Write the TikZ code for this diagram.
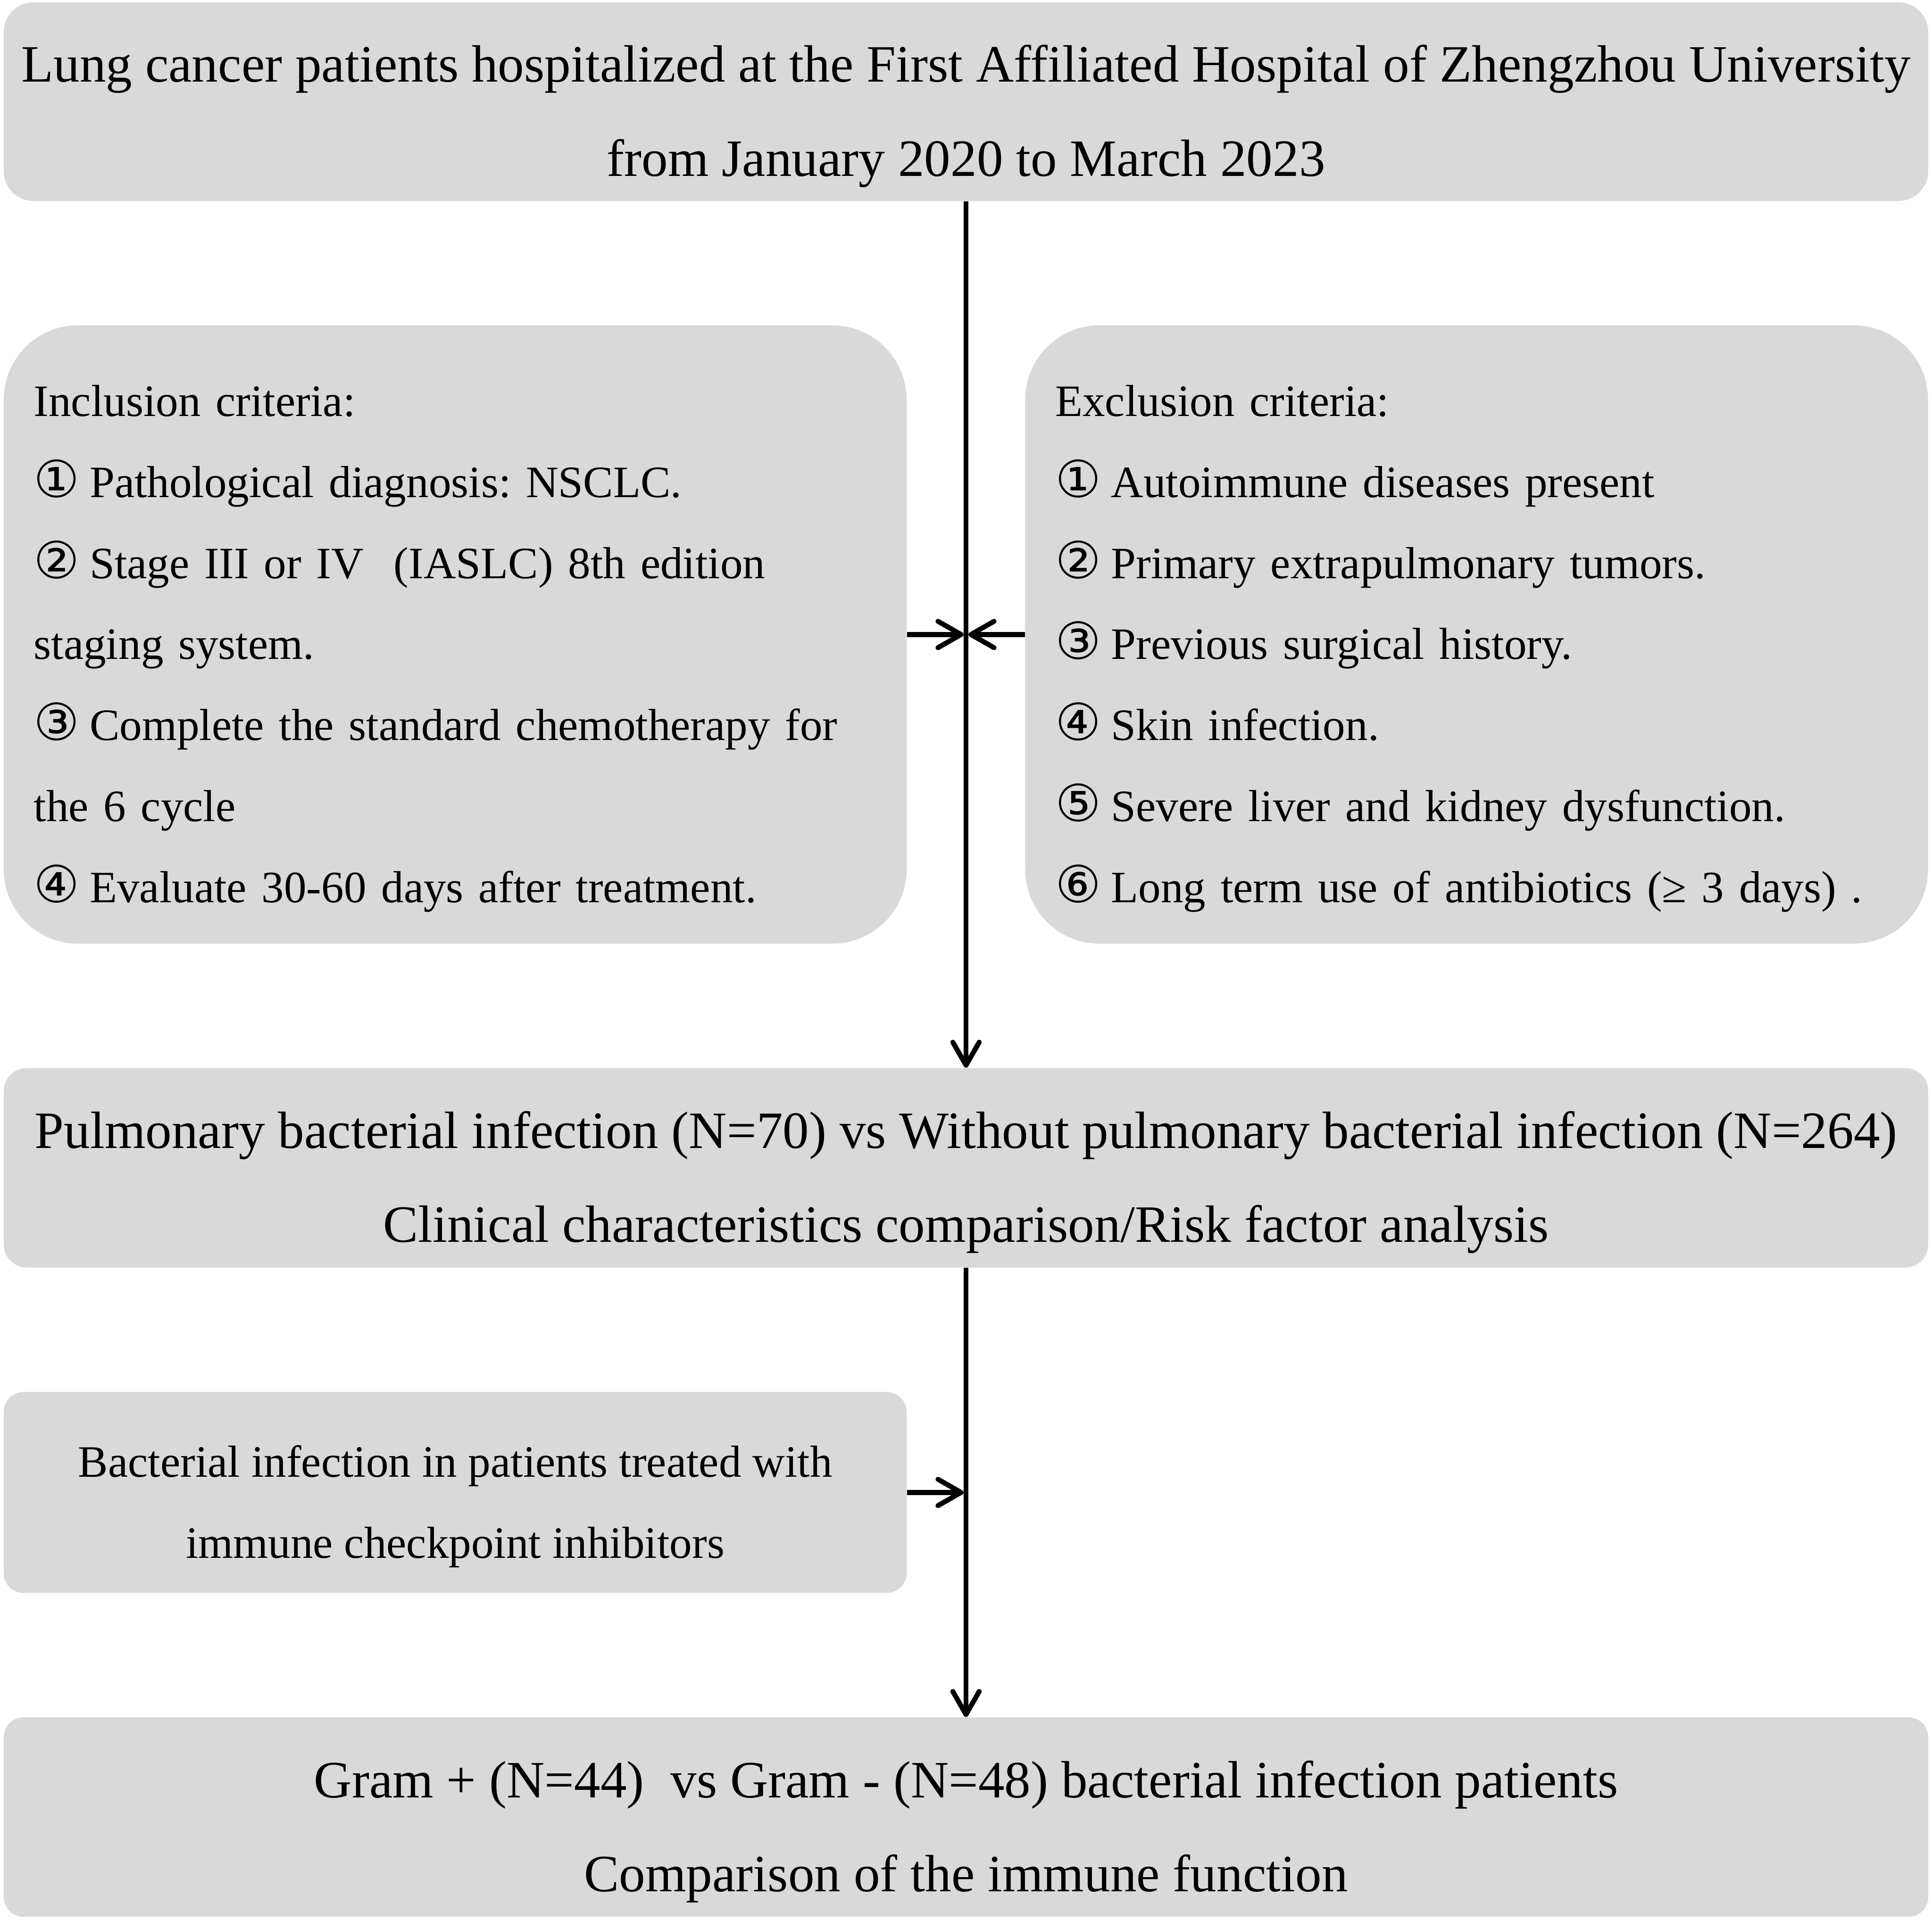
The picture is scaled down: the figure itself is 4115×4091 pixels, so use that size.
\documentclass[tikz,border=0pt]{standalone}
\usepackage{fontspec}
\setmainfont{Liberation Serif}
\newfontfamily\circfont{DejaVu Sans}
\usepackage{xcolor}
\definecolor{boxgray}{RGB}{217,217,217}
\usetikzlibrary{arrows.meta,positioning,calc}
\newcommand{\cnum}[1]{{\circfont\fontsize{31}{31}\selectfont #1}\hspace{-3pt}}
\newcommand{\bigtext}{\fontsize{31.8}{57}\selectfont\frenchspacing}
\newcommand{\smalltext}{\fontsize{27.2}{49.1}\selectfont\frenchspacing}
\newcommand{\bigstrut}{\rule{0pt}{40pt}}
\newcommand{\smallstrut}{\rule{0pt}{36pt}}

\begin{document}
\begin{tikzpicture}[x=0.1mm,y=-0.1mm,
  box/.style={fill=boxgray,draw=none,inner sep=0pt,align=center},
  listbox/.style={fill=boxgray,draw=none,inner xsep=6.4mm,inner ysep=0pt,align=left,
    text width=179.5mm,minimum height=131.7mm,rounded corners=45pt,font=\smalltext},
  flow/.style={line width=3pt,-{Straight Barb[length=14pt,width=16pt,line cap=round,round]}}]
\useasboundingbox (0,0) rectangle (4115,4091);

\node[box,minimum width=409.9mm,minimum height=42.3mm,rounded corners=18pt,font=\bigtext]
  (hosp) at (2057.5,216.5) {\bigstrut Lung cancer patients hospitalized at the First Affiliated Hospital of Zhengzhou University\\from January 2020 to March 2023};

\node[listbox] (incl) at (969.5,1351.5) {\smallstrut Inclusion criteria:\\
\cnum{①} Pathological diagnosis: NSCLC.\\
\cnum{②} Stage III or IV\ \ (IASLC) 8th edition\\
staging system.\\
\cnum{③} Complete the standard chemotherapy for\\
the 6 cycle\\
\cnum{④} Evaluate 30-60 days after treatment.};

\node[listbox] (excl) at (3145,1351.5) {\smallstrut Exclusion criteria:\\
\cnum{①} Autoimmune diseases present\\
\cnum{②} Primary extrapulmonary tumors.\\
\cnum{③} Previous surgical history.\\
\cnum{④} Skin infection.\\
\cnum{⑤} Severe liver and kidney dysfunction.\\
\cnum{⑥} Long term use of antibiotics (≥ 3 days) .};

\node[box,minimum width=409.9mm,minimum height=42.5mm,rounded corners=14pt,font=\bigtext]
  (compare) at (2057.5,2487.5) {\bigstrut Pulmonary bacterial infection (N=70) vs Without pulmonary bacterial infection (N=264)\\Clinical characteristics comparison/Risk factor analysis};

\node[box,minimum width=192.3mm,minimum height=42.8mm,rounded corners=12pt,font=\smalltext]
  (ici) at (969.5,3179) {\smallstrut Bacterial infection in patients treated with\\immune checkpoint inhibitors};

\node[box,minimum width=409.9mm,minimum height=42.5mm,rounded corners=12pt,font=\bigtext]
  (gram) at (2057.5,3870.5) {\bigstrut Gram + (N=44)\ \ vs Gram - (N=48) bacterial infection patients\\Comparison of the immune function};

% junctions on the main line
\coordinate (jn1) at (hosp.south |- incl.east);
\coordinate (jn2) at (hosp.south |- ici.east);

\draw[flow] (hosp.south) -- (compare.north);
\draw[flow] (compare.south) -- (gram.north);
\draw[flow,shorten >=1.5pt] (incl.east) -- (jn1);
\draw[flow,shorten >=1.5pt] (excl.west) -- (jn1);
\draw[flow,shorten >=1.5pt] (ici.east) -- (jn2);
\end{tikzpicture}
\end{document}
